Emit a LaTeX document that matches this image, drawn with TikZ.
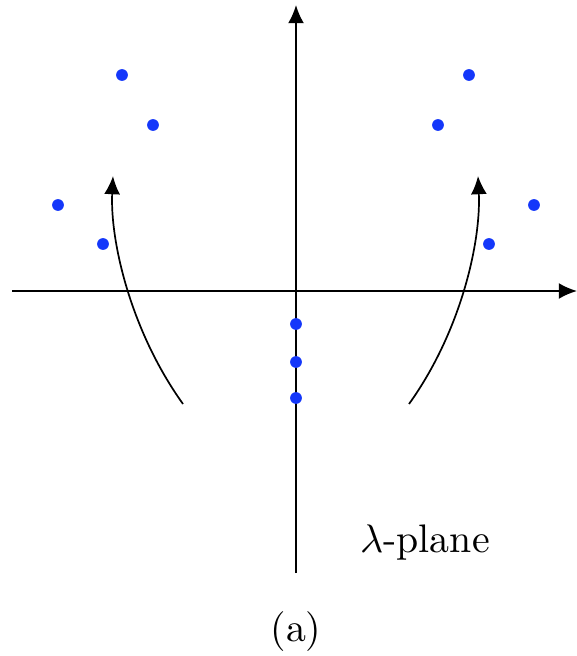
\documentclass[tikz,border=0pt]{standalone}
\usetikzlibrary{arrows.meta}
\definecolor{poleblue}{RGB}{20,55,250}
\begin{document}
\begin{tikzpicture}[x=0.2635pt,y=-0.2635pt,
  axis/.style={line width=0.5pt,-{Latex[length=4.8pt,width=4.2pt]}},
  flow/.style={line width=0.45pt,-{Latex[length=4.8pt,width=4.2pt]}},
  pole/.style={circle,fill=poleblue,inner sep=0pt,minimum size=3.1pt},
  lbl/.style={inner sep=0pt,scale=1.05}]
\useasboundingbox (0,0) rectangle (577,656);
\coordinate (xl) at (12,291);
\coordinate (xr) at (577,291);
\coordinate (yb) at (296,573);
\coordinate (yt) at (296,5);
\draw[axis] (xl) -- (xr);
\draw[axis] (yb) -- (yt);
% poles
\node[pole] (p1) at (122,75) {};
\node[pole] (p2) at (153,125) {};
\node[pole] (p3) at (58,205) {};
\node[pole] (p4) at (103,244) {};
\node[pole] (q1) at (469,75) {};
\node[pole] (q2) at (438,125) {};
\node[pole] (q3) at (534,205) {};
\node[pole] (q4) at (489,244) {};
\node[pole] (r1) at (296,324) {};
\node[pole] (r2) at (296,362) {};
\node[pole] (r3) at (296,398) {};
% curved arrows
\coordinate (la) at (183,404);
\coordinate (lb) at (113,176);
\coordinate (ra) at (409,404);
\coordinate (rb) at (478,176);
\draw[flow] (la) .. controls (130,330) and (110,240) .. (lb);
\draw[flow] (ra) .. controls (462,330) and (481,240) .. (rb);
\node[lbl] (plane) at (425,543) {$\lambda$-plane};
\node[lbl] (cap) at (296,632) {(a)};
\end{tikzpicture}
\end{document}
